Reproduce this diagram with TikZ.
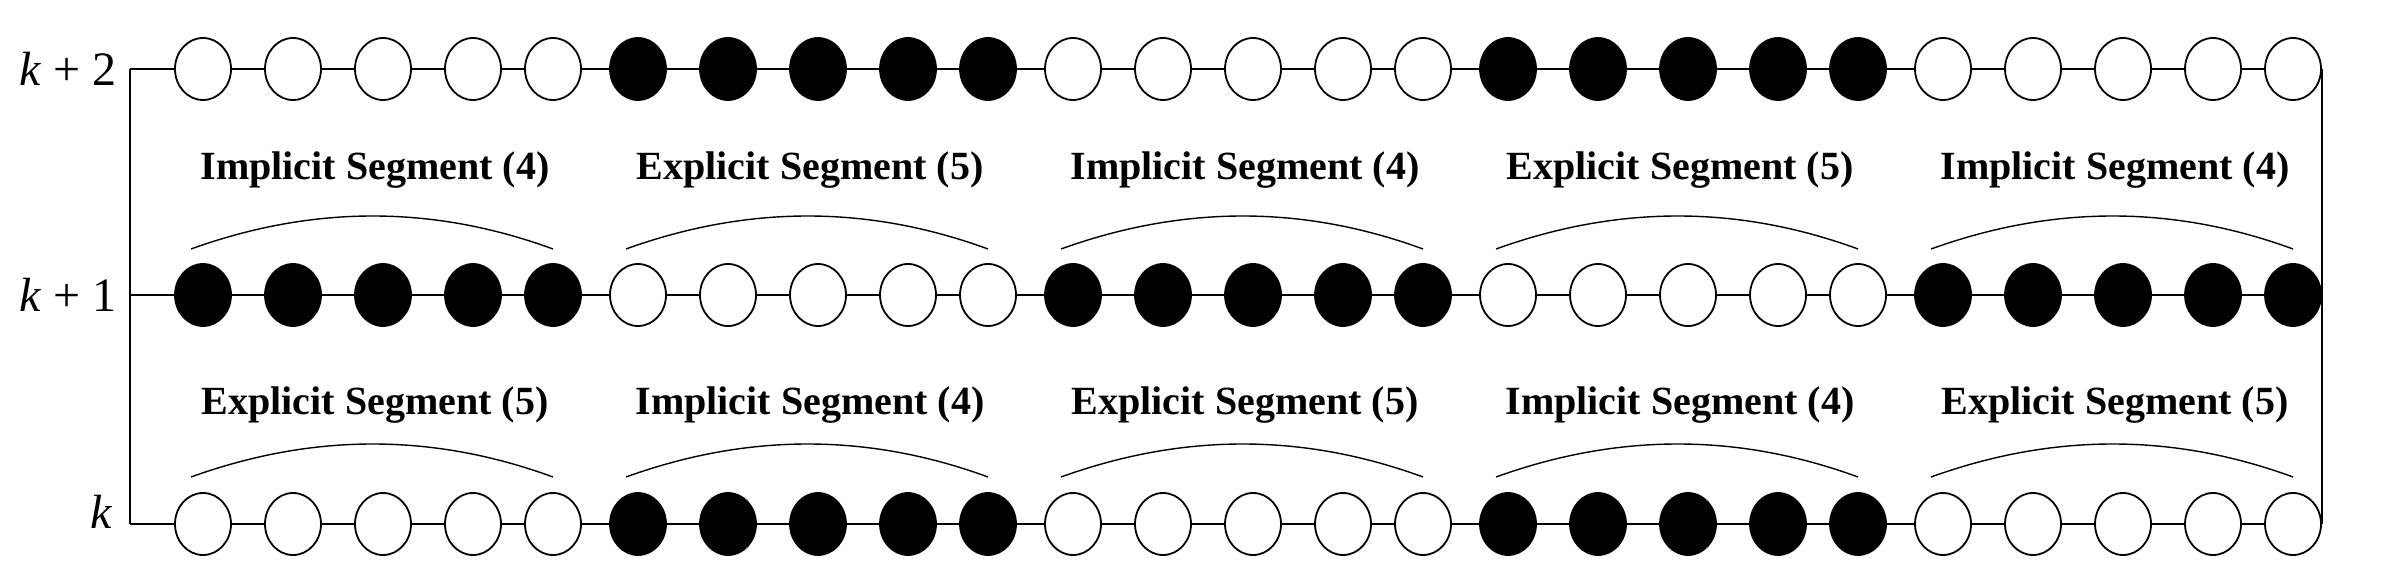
\documentclass[tikz,border=0pt]{standalone}
\usepackage{fontspec}
\setmainfont{Liberation Serif}
\usetikzlibrary{shapes.geometric}
\begin{document}
\begin{tikzpicture}[x=0.5pt,y=-0.5pt,
  bead/.style={ellipse,draw,line width=0.9pt,minimum width=28pt,minimum height=31pt,inner sep=0pt},
  wb/.style={bead,fill=white},
  bb/.style={bead,fill=black},
  lab/.style={font=\bfseries\fontsize{20}{24}\selectfont},
  rl/.style={font=\fontsize{24}{28}\selectfont},
  arc/.style={line width=0.7pt}]
\useasboundingbox (0,0) rectangle (2385,582);
% rows
\foreach \r/\y in {t/69,m/295,b/524}{
  \coordinate (L\r) at (130,\y);
  \coordinate (R\r) at (2322,\y);
  \draw[line width=0.9pt] (L\r) -- (R\r);
}
\draw[line width=0.9pt] (Lt) -- (Lb);
\draw[line width=0.9pt] (Rt) -- (Rb);
\node[rl,anchor=east] (kt) at (124,69) {\textit{k} + 2};
\node[rl,anchor=east] (km) at (124,295) {\textit{k} + 1};
\node[rl] (kb) at (102,512) {\textit{k}};
% beads
\foreach \g in {0,...,4}{
  \pgfmathsetmacro{\gx}{203+435*\g}
  \pgfmathtruncatemacro{\odd}{mod(\g,2)}
  \foreach \i/\o in {1/0,2/90,3/180,4/270,5/350}{
    \ifnum\odd=1
      \node[bb] (t\g\i) at (\gx+\o,69) {};
      \node[wb] (m\g\i) at (\gx+\o,295) {};
      \node[bb] (b\g\i) at (\gx+\o,524) {};
    \else
      \node[wb] (t\g\i) at (\gx+\o,69) {};
      \node[bb] (m\g\i) at (\gx+\o,295) {};
      \node[wb] (b\g\i) at (\gx+\o,524) {};
    \fi
  }
  \draw[arc] (\gx-12,249) .. controls (\gx+110,205) and (\gx+230,205) .. (\gx+350,249);
  \draw[arc] (\gx-12,477) .. controls (\gx+110,433) and (\gx+230,433) .. (\gx+350,477);
  \ifnum\odd=1
    \node[lab] (ut\g) at (\gx+172,170) {Explicit Segment (5)};
    \node[lab] (lt\g) at (\gx+172,405) {Implicit Segment (4)};
  \else
    \node[lab] (ut\g) at (\gx+172,170) {Implicit Segment (4)};
    \node[lab] (lt\g) at (\gx+172,405) {Explicit Segment (5)};
  \fi
}
\end{tikzpicture}
\end{document}
